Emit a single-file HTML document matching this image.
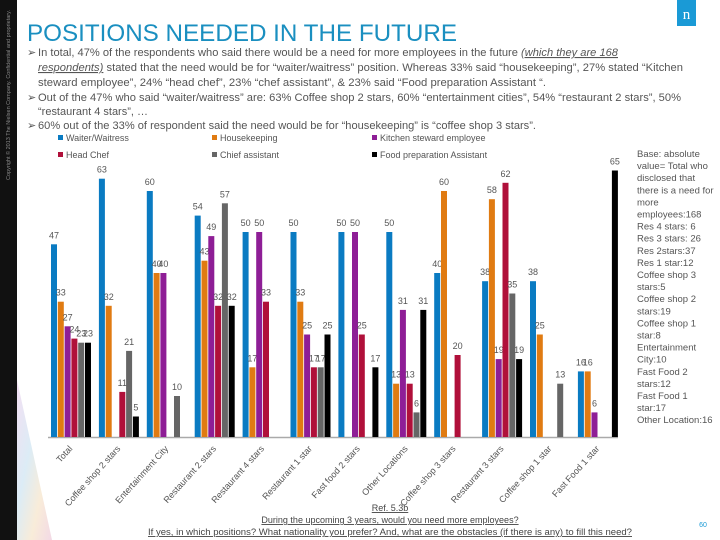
<!DOCTYPE html>
<html><head><meta charset="utf-8"><style>
body{margin:0;background:#fff;}
svg{display:block;font-family:"Liberation Sans",sans-serif;}
</style></head><body>
<svg id="chart" width="720" height="540" viewBox="0 0 720 540">
<defs>
<linearGradient id="mesh" x1="0" y1="0" x2="1" y2="1">
<stop offset="0" stop-color="#c060c0"/><stop offset="0.4" stop-color="#50a0d0"/><stop offset="0.7" stop-color="#e0a040"/><stop offset="1" stop-color="#c04080"/>
</linearGradient>
</defs>
<rect x="0" y="0" width="17" height="540" fill="#111"/>
<polygon points="17,380 17,540 52,540" fill="url(#mesh)" opacity="0.2"/>
<text transform="translate(10,180) rotate(-90)" font-size="5.5" fill="#888" textLength="170">Copyright © 2013 The Nielsen Company. Confidential and proprietary.</text>
<rect x="677" y="0" width="19" height="26" fill="#1a9ad6"/>
<text x="686.5" y="19" font-size="15" fill="#fff" text-anchor="middle" font-family="Liberation Serif,serif">n</text>
<text x="27" y="41" font-size="24" fill="#1a8fc0" textLength="430" lengthAdjust="spacingAndGlyphs">POSITIONS NEEDED IN THE FUTURE</text>
<g font-size="11" fill="#555">
<text x="27" y="56">➢</text>
<text x="38" y="56" textLength="580" lengthAdjust="spacingAndGlyphs">In total, 47% of the respondents who said there would be a need for more employees in the future <tspan text-decoration="underline" font-style="italic">(which they are 168</tspan></text>
<text x="38" y="71" textLength="645" lengthAdjust="spacingAndGlyphs"><tspan text-decoration="underline" font-style="italic">respondents)</tspan> stated that the need would be for “waiter/waitress” position. Whereas 33% said “housekeeping”, 27% stated “Kitchen</text>
<text x="38" y="86" textLength="508" lengthAdjust="spacingAndGlyphs">steward employee”, 24% “head chef”, 23% “chef assistant”, &amp; 23% said “Food preparation Assistant “.</text>
<text x="27" y="101">➢</text>
<text x="38" y="101" textLength="643" lengthAdjust="spacingAndGlyphs">Out of the 47% who said “waiter/waitress” are: 63% Coffee shop 2 stars, 60% “entertainment cities”, 54% “restaurant 2 stars”, 50%</text>
<text x="38" y="115" textLength="110" lengthAdjust="spacingAndGlyphs">“restaurant 4 stars”, …</text>
<text x="27" y="129">➢</text>
<text x="38" y="129" textLength="498" lengthAdjust="spacingAndGlyphs">60% out of the 33% of respondent said the need would be for “housekeeping” is “coffee shop 3 stars”.</text>
</g>
<g id="legend" font-size="9" fill="#555"></g>
<g id="plot"></g>
<g font-size="9.5" fill="#555" id="note"></g>
<g font-size="9" fill="#444" text-anchor="middle">
<text x="390" y="511" text-decoration="underline">Ref. 5.3b</text>
<text x="390" y="523" text-decoration="underline">During the upcoming 3 years, would you need more employees?</text>
<text x="390" y="535" text-decoration="underline" textLength="484" lengthAdjust="spacingAndGlyphs">If yes, in which positions? What nationality you prefer? And, what are the obstacles (if there is any) to fill this need?</text>
</g>
<text x="703" y="527" font-size="7" fill="#1a9ad6" text-anchor="middle">60</text>
</svg>
<script>
const categories=["Total","Coffee shop 2 stars","Entertainment City","Restaurant 2 stars","Restaurant 4 stars","Restaurant 1 star","Fast food  2 stars","Other Locations","Coffee shop 3 stars","Restaurant 3 stars","Coffee shop 1 star","Fast Food 1 star"];
const seriesNames=["Waiter/Waitress","Housekeeping","Kitchen steward employee","Head Chef","Chief assistant","Food preparation Assistant"];
const seriesColors=["#0a7bc2","#e07b12","#8e1e96","#b0103a","#666666","#000000"];
const waiter=[47,63,60,54,50,50,50,50,40,38,38,16];
const housekeeping=[33,32,40,43,17,33,0,13,60,58,25,16];
const kitchenSteward=[27,0,40,49,50,25,50,31,0,19,0,6];
const headChef=[24,11,0,32,33,17,25,13,20,62,0,0];
const chiefAssistant=[23,21,10,57,0,17,0,6,0,35,13,0];
const foodPrep=[23,5,0,32,0,25,17,31,0,19,0,65];
const noteLines=["Base: absolute","value= Total who","disclosed that","there is a need for","more","employees:168","Res 4 stars: 6","Res 3 stars: 26","Res 2stars:37","Res 1 star:12","Coffee shop 3","stars:5","Coffee shop 2","stars:19","Coffee shop 1","star:8","Entertainment","City:10","Fast Food  2","stars:12","Fast Food 1","star:17","Other Location:16"];
const series=[waiter,housekeeping,kitchenSteward,headChef,chiefAssistant,foodPrep];
const NS="http://www.w3.org/2000/svg";
const baseY=437, pxPerUnit=4.1, x0=51, groupW=47.9, slotW=6.8, barW=6;
const yScale=v=>baseY-v*pxPerUnit;
const xScale=(ci,si)=>x0+ci*groupW+si*slotW;
function mk(tag,attrs,parent){const e=document.createElementNS(NS,tag);for(const k in attrs)e.setAttribute(k,attrs[k]);parent.appendChild(e);return e;}
const plot=document.getElementById('plot');
const ax=mk('line',{x1:48,y1:baseY+0.5,x2:618,y2:baseY+0.5,stroke:'#aaa','stroke-width':1.5},plot);


series.forEach((vals,si)=>{
  vals.forEach((v,ci)=>{
    if(!v) return;
    const x=xScale(ci,si);
    const r=mk('rect',{x:x,y:yScale(v),width:barW,height:v*pxPerUnit,fill:seriesColors[si]},plot);
    
    
    const t=mk('text',{x:x+barW/2,y:yScale(v)-6,'font-size':9,fill:'#555','text-anchor':'middle'},plot);
    t.textContent=v;
    
    
  });
});
categories.forEach((c,ci)=>{
  const cx=xScale(ci,0)+22, cy=449;
  const t=mk('text',{x:cx,y:cy,'font-size':9,fill:'#555','text-anchor':'end',transform:`rotate(-48 ${cx} ${cy})`},plot);
  t.textContent=c;
  
  
});
const lg=document.getElementById('legend');
const legPos=[[64,141],[218,141],[378,141],[64,158],[218,158],[378,158]];
seriesNames.forEach((n,i)=>{
  const g=mk('g',{},lg);
  
  
  mk('rect',{x:legPos[i][0]-6,y:legPos[i][1]-6,width:5,height:5,fill:seriesColors[i]},g);
  const t=mk('text',{x:legPos[i][0]+2,y:legPos[i][1]},g);
  t.textContent=n;
});
const note=document.getElementById('note');
noteLines.forEach((l,i)=>{
  const t=mk('text',{x:637,y:157+i*12.1},note);
  t.textContent=l;
});
</script>
</body></html>
